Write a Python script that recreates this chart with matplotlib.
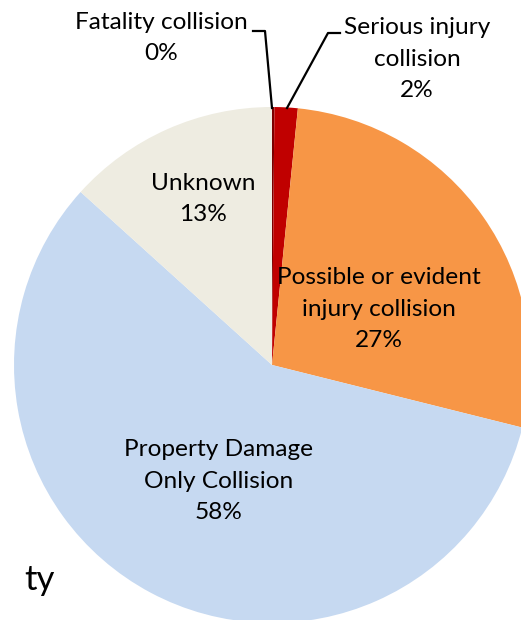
import matplotlib.pyplot as plt

# collision severity shares (percent), clockwise from 12 o'clock
labels = ["Fatality collision", "Serious injury collision", "Possible or evident injury collision",
          "Property Damage Only Collision", "Unknown"]
values = [0.15, 1.45, 27.3, 57.8, 13.3]
pct_text = ["0%", "2%", "27%", "58%", "13%"]
colors = ["#7B0000", "#C00000", "#F79646", "#C6D9F1", "#EEECE1"]

plt.rcParams['font.family'] = ['Lato', 'DejaVu Sans']

W, H = 521, 620
fig = plt.figure(figsize=(W / 100, H / 100), dpi=100)
ax = fig.add_axes([0, 0, 1, 1])

cx, cy, r = 272, H - 365, 258
ax.pie(values, colors=colors, startangle=90, counterclock=False,
       center=(cx, cy), radius=r, frame=True,
       wedgeprops=dict(linewidth=0))
ax.set_xlim(0, W)
ax.set_ylim(0, H)
ax.set_aspect('equal')
ax.axis('off')

fs = 17.6
ls = 1.62
def y(v):
    return H - v

# inside labels
ax.text(203, y(199), "Unknown\n" + pct_text[4], ha='center', va='center', fontsize=fs, linespacing=ls)
ax.text(379, y(309), "Possible or evident\ninjury collision\n" + pct_text[2], ha='center', va='center',
        fontsize=fs, linespacing=ls)
ax.text(219, y(481), "Property Damage\nOnly Collision\n" + pct_text[3], ha='center', va='center',
        fontsize=fs, linespacing=ls)

# outside labels with leader lines
ax.text(161, y(38), "Fatality collision\n" + pct_text[0], ha='center', va='center', fontsize=fs, linespacing=ls)
ax.plot([253, 265, 272], [y(31), y(31), y(108)], color='black', lw=1.6)
ax.text(417, y(59), "Serious injury\ncollision\n" + pct_text[1], ha='center', va='center',
        fontsize=fs, linespacing=ls)
ax.plot([340, 328, 287], [y(33), y(33), y(108)], color='black', lw=1.6)

# cut-off slide text
ax.text(24, y(580), "ty", ha='left', va='center', fontsize=25)

fig.savefig("out.png", dpi=100)
